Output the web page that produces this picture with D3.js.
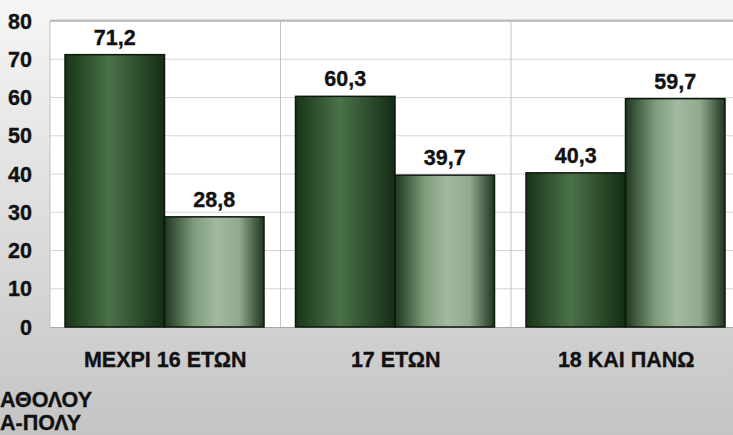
<!DOCTYPE html>
<html>
<head>
<meta charset="utf-8">
<script src="https://cdn.jsdelivr.net/npm/d3@7"></script>
<style>
  body { margin: 0; }
  svg { display: block; font-family: "Liberation Sans", Arial, sans-serif; }
</style>
</head>
<body>
<svg id="chart" width="733" height="435"></svg>
<script>
const width = 733;
const height = 435;

// data
const categories = ["ΜΕΧΡΙ 16 ΕΤΩΝ", "17 ΕΤΩΝ", "18 ΚΑΙ ΠΑΝΩ"];
const series = ["ΑΘΟΛΟΥ", "Α-ΠΟΛΥ"]; // only these parts are visible at the left edge
const darkValues = [71.2, 60.3, 40.3];
const lightValues = [28.8, 39.7, 59.7];
const yTicks = [0, 10, 20, 30, 40, 50, 60, 70, 80];

const svg = d3.select("#chart");
const defs = svg.append("defs");

// page background: light at top, gray at bottom
const bg = defs.append("linearGradient").attr("id", "bg")
  .attr("x1", 0).attr("y1", 0).attr("x2", 0).attr("y2", 1);
bg.append("stop").attr("offset", "0%").attr("stop-color", "#f6f6f6");
bg.append("stop").attr("offset", "100%").attr("stop-color", "#c4c4c4");

const gDark = defs.append("linearGradient").attr("id", "barDark")
  .attr("x1", 0).attr("y1", 0).attr("x2", 1).attr("y2", 0);
[["0%", "#183418"], ["45%", "#4b7249"], ["100%", "#142c14"]]
  .forEach(s => gDark.append("stop").attr("offset", s[0]).attr("stop-color", s[1]));

const gLight = defs.append("linearGradient").attr("id", "barLight")
  .attr("x1", 0).attr("y1", 0).attr("x2", 1).attr("y2", 0);
[["0%", "#1e381e"], ["30%", "#7f9c7c"], ["52%", "#a2b99f"], ["75%", "#91aa8e"], ["100%", "#1f351f"]]
  .forEach(s => gLight.append("stop").attr("offset", s[0]).attr("stop-color", s[1]));

svg.append("rect").attr("width", width).attr("height", height).attr("fill", "url(#bg)");

const y = d3.scaleLinear().domain([0, 80]).range([327, 21]);
const x = d3.scaleBand().domain(categories).range([50, 741.5]).paddingInner(0);
const xs = d3.scaleBand().domain(["dark", "light"]).range([15, 214]);

// plot area
svg.append("rect")
  .attr("x", 50).attr("y", y(80))
  .attr("width", 700).attr("height", y(0) - y(80))
  .attr("fill", "#ffffff");

// horizontal grid
svg.append("g").selectAll("line")
  .data(yTicks.filter(d => d > 0 && d < 80)).enter()
  .append("line")
  .attr("x1", 50).attr("x2", width)
  .attr("y1", d => y(d)).attr("y2", d => y(d))
  .attr("stroke", "#d6d6d6").attr("stroke-width", 1);

// vertical dividers between categories
svg.append("g").selectAll("line")
  .data(categories.slice(1)).enter()
  .append("line")
  .attr("x1", d => x(d)).attr("x2", d => x(d))
  .attr("y1", y(80)).attr("y2", y(0))
  .attr("stroke", "#c4c4c4").attr("stroke-width", 1);

// plot frame
svg.append("line").attr("x1", 50).attr("x2", width).attr("y1", y(80) - 1).attr("y2", y(80) - 1)
  .attr("stroke", "#dcdcdc").attr("stroke-width", 2);
svg.append("line").attr("x1", 50).attr("x2", width).attr("y1", y(80)).attr("y2", y(80))
  .attr("stroke", "#b0b0b0").attr("stroke-width", 1.5);
svg.append("line").attr("x1", 50).attr("x2", 50).attr("y1", y(80)).attr("y2", y(0))
  .attr("stroke", "#c0c0c0").attr("stroke-width", 1);
svg.append("line").attr("x1", 50).attr("x2", width).attr("y1", y(0) + 0.5).attr("y2", y(0) + 0.5)
  .attr("stroke", "#a8a8a8").attr("stroke-width", 1);

const label = sel => sel
  .attr("font-size", "21.5px").attr("font-weight", "bold")
  .attr("fill", "#111").attr("stroke", "#111").attr("stroke-width", 0.35);

// y axis labels
svg.append("g").selectAll("text")
  .data(yTicks).enter()
  .append("text")
  .attr("x", 32).attr("y", d => y(d))
  .attr("dy", "0.36em")
  .attr("text-anchor", "end")
  .call(label)
  .text(d => d);

const rows = categories.map((c, i) => ({ c, vals: [darkValues[i], lightValues[i]] }));
const fmt = v => v.toFixed(1).replace(".", ",");

const groups = svg.append("g").selectAll("g")
  .data(rows).enter()
  .append("g")
  .attr("transform", d => `translate(${x(d.c)},0)`);

const bars = groups.selectAll("g.bar")
  .data(d => d.vals.map((v, j) => ({ s: xs.domain()[j], v, j }))).enter()
  .append("g").attr("class", "bar");

bars.append("rect")
  .attr("x", d => xs(d.s))
  .attr("y", d => y(d.v))
  .attr("width", xs.bandwidth())
  .attr("height", d => y(0) - y(d.v))
  .attr("fill", d => d.j === 0 ? "url(#barDark)" : "url(#barLight)")
  .attr("stroke", "#0e170e").attr("stroke-width", 1.5);

bars.append("text")
  .attr("x", d => xs(d.s) + xs.bandwidth() / 2)
  .attr("y", d => y(d.v) - 10)
  .attr("text-anchor", "middle")
  .call(label)
  .text(d => fmt(d.v));

// category labels
svg.append("g").selectAll("text")
  .data(categories).enter()
  .append("text")
  .attr("x", d => x(d) + x.bandwidth() / 2)
  .attr("y", 367)
  .attr("text-anchor", "middle")
  .call(label)
  .text(d => d);

// row labels at the left edge
svg.append("g").selectAll("text")
  .data(series).enter()
  .append("text")
  .attr("x", 0)
  .attr("y", (d, i) => i === 0 ? 407 : 430)
  .attr("text-anchor", "start")
  .call(label)
  .text(d => d);
</script>
</body>
</html>
